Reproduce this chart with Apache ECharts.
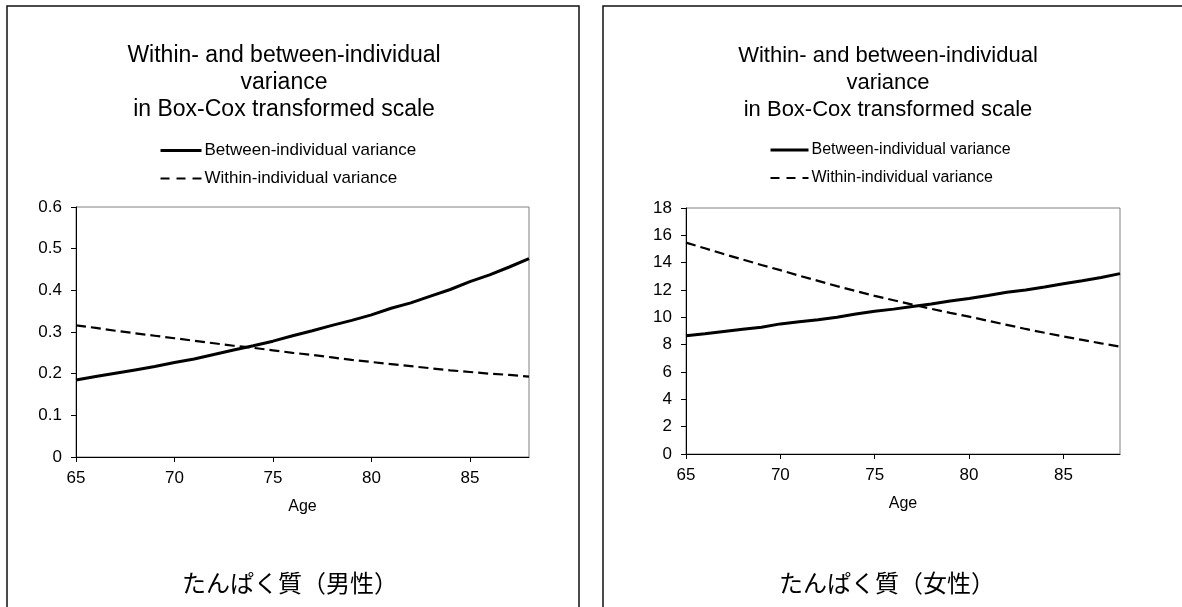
<!DOCTYPE html>
<html>
<head>
<meta charset="utf-8">
<script src="https://cdn.jsdelivr.net/npm/echarts@6/dist/echarts.min.js"></script>
<style>
html,body{margin:0;padding:0;background:#fff;}
#c{width:1182px;height:607px;}
</style>
</head>
<body>
<div id="c"></div>
<script>
var ages = [65,66,67,68,69,70,71,72,73,74,75,76,77,78,79,80,81,82,83,84,85,86,87,88];
var maleBetween = [0.185,0.193,0.201,0.209,0.217,0.227,0.235,0.246,0.257,0.267,0.278,0.291,0.303,0.316,0.328,0.341,0.357,0.370,0.386,0.402,0.421,0.437,0.456,0.476];
var maleWithin = [0.316,0.310,0.303,0.297,0.291,0.285,0.279,0.273,0.267,0.262,0.256,0.250,0.245,0.239,0.233,0.228,0.223,0.218,0.213,0.208,0.204,0.200,0.197,0.193];
var femaleBetween = [8.65,8.80,8.96,9.12,9.28,9.52,9.68,9.83,10.00,10.25,10.45,10.60,10.80,10.98,11.20,11.38,11.60,11.83,12.00,12.22,12.45,12.68,12.92,13.20];
var femaleWithin = [15.47,15.05,14.63,14.23,13.83,13.45,13.05,12.67,12.28,11.92,11.57,11.25,10.93,10.62,10.33,10.05,9.75,9.45,9.15,8.87,8.60,8.35,8.10,7.86];
var seriesNames = ['Between-individual variance','Within-individual variance'];
var chartTitle = 'Within- and between-individual\nvariance\nin Box-Cox transformed scale';
var panelTitles = ['たんぱく質（男性）','たんぱく質（女性）'];
var xName = 'Age';

function pairs(vals){ return ages.map(function(a,i){ return [a, vals[i]]; }); }

var latin = '"Liberation Sans", Arial, sans-serif';
var chart = echarts.init(document.getElementById('c'));

function xAxis(gi){
  return {
    type:'value', gridIndex:gi, min:65, max:88, interval:5,
    name:xName, nameLocation:'middle', nameGap:42,
    nameTextStyle:{color:'#000', fontSize:16, fontFamily:latin},
    axisLine:{show:true, onZero:false, lineStyle:{color:'#000', width:1}},
    axisTick:{show:true, inside:false, length:5, lineStyle:{color:'#000'}},
    axisLabel:{color:'#000', fontSize:17, fontFamily:latin, margin:13, showMaxLabel:false},
    splitLine:{show:false}
  };
}
function yAxis(gi, max, interval){
  return {
    type:'value', gridIndex:gi, min:0, max:max, interval:interval,
    axisLine:{show:true, lineStyle:{color:'#000', width:1}},
    axisTick:{show:true, inside:false, length:5, lineStyle:{color:'#000'}},
    axisLabel:{color:'#000', fontSize:17, fontFamily:latin, margin:14},
    splitLine:{show:false}
  };
}
function lineSeries(name, gi, vals, dashed){
  return {
    type:'line', name:name, xAxisIndex:gi, yAxisIndex:gi, data:pairs(vals),
    showSymbol:false, symbol:'none', animation:false, silent:true,
    lineStyle:{color:'#000', width: dashed ? 2.2 : 3, type: dashed ? [10,5] : 'solid'},
    itemStyle:{color:'#000'}
  };
}
function legendData(){
  return [
    {name:seriesNames[0], lineStyle:{color:'#000', width:3, type:'solid'}},
    {name:seriesNames[1], lineStyle:{color:'#000', width:2.2, type:[9,7]}}
  ];
}

chart.setOption({
  backgroundColor:'#fff',
  animation:false,
  title:[
    {text:chartTitle, left:284, top:42, textAlign:'center', padding:0,
     textStyle:{color:'#000', fontSize:23, fontWeight:'normal', fontFamily:latin, lineHeight:27}},
    {text:chartTitle, left:888, top:42, textAlign:'center', padding:0,
     textStyle:{color:'#000', fontSize:22, fontWeight:'normal', fontFamily:latin, lineHeight:27}},
    {text:panelTitles[0], left:290, top:570, textAlign:'center', padding:0,
     textStyle:{color:'#000', fontSize:24, fontWeight:'normal', fontFamily:'"Noto Sans CJK JP", sans-serif', lineHeight:26}},
    {text:panelTitles[1], left:887, top:570, textAlign:'center', padding:0,
     textStyle:{color:'#000', fontSize:24, fontWeight:'normal', fontFamily:'"Noto Sans CJK JP", sans-serif', lineHeight:26}}
  ],
  legend:[
    {data:legendData(), orient:'vertical', left:159, top:142, padding:0, itemWidth:41, itemHeight:14, itemGap:11,
     selectedMode:false,
     itemStyle:{opacity:0},
     textStyle:{color:'#000', fontSize:17, fontFamily:latin, lineHeight:17, padding:[0,0,0,-2]}},
    {data:legendData(), orient:'vertical', left:769, top:142, padding:0, itemWidth:38, itemHeight:14, itemGap:12,
     selectedMode:false,
     itemStyle:{opacity:0},
     textStyle:{color:'#000', fontSize:16, fontFamily:latin, lineHeight:16, padding:[0,0,0,-2]}}
  ],
  grid:[
    {left:76, top:207, right:653, bottom:150, show:true, borderColor:'#808080', borderWidth:1, backgroundColor:'transparent'},
    {left:686, top:208, right:62, bottom:153, show:true, borderColor:'#808080', borderWidth:1, backgroundColor:'transparent'}
  ],
  xAxis:[xAxis(0), xAxis(1)],
  yAxis:[yAxis(0,0.6,0.1), yAxis(1,18,2)],
  series:[
    lineSeries(seriesNames[0],0,maleBetween,false),
    lineSeries(seriesNames[1],0,maleWithin,true),
    lineSeries(seriesNames[0],1,femaleBetween,false),
    lineSeries(seriesNames[1],1,femaleWithin,true)
  ],
  graphic:[
    {type:'rect', shape:{x:7, y:6, width:572, height:640}, style:{fill:'none', stroke:'#111', lineWidth:1.5}, z:-1, silent:true},
    {type:'rect', shape:{x:603, y:6, width:700, height:640}, style:{fill:'none', stroke:'#111', lineWidth:1.5}, z:-1, silent:true}
  ]
});
</script>
</body>
</html>
